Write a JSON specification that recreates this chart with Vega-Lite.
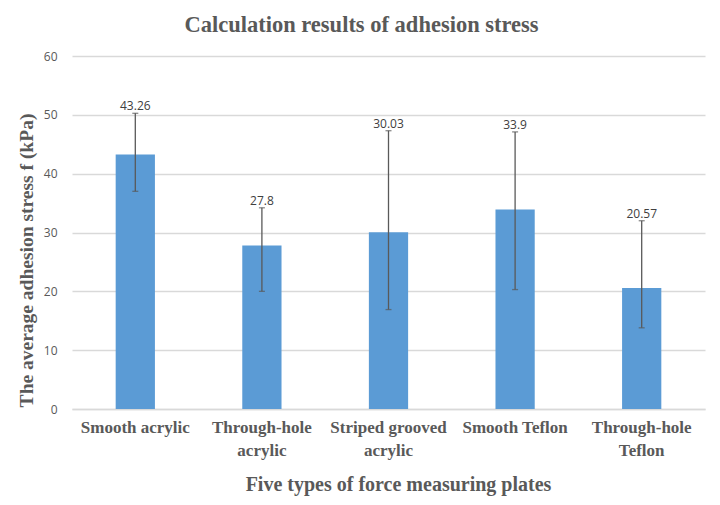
{
  "$schema": "https://vega.github.io/schema/vega-lite/v6.json",
  "width": 633,
  "height": 353,
  "autosize": "none",
  "padding": {"left": 72, "top": 56, "right": 15, "bottom": 96},
  "background": "white",
  "title": {
    "text": "Calculation results of adhesion stress",
    "font": "Liberation Serif",
    "fontSize": 22.5,
    "fontWeight": "bold",
    "color": "#595959",
    "offset": 14,
    "anchor": "middle",
    "dx": -27
  },
  "config": {"view": {"stroke": null}},
  "data": {
    "values": [
      {"plate": "Smooth acrylic", "mean": 43.26, "low": 37.0, "high": 50.26},
      {"plate": "Through-hole acrylic", "mean": 27.8, "low": 20.0, "high": 34.2},
      {"plate": "Striped grooved acrylic", "mean": 30.03, "low": 16.9, "high": 47.3},
      {"plate": "Smooth Teflon", "mean": 33.9, "low": 20.3, "high": 47.1},
      {"plate": "Through-hole Teflon", "mean": 20.57, "low": 13.8, "high": 32.0}
    ]
  },
  "encoding": {
    "x": {
      "field": "plate",
      "type": "nominal",
      "sort": null,
      "scale": {"paddingInner": 0.69, "paddingOuter": 0.345},
      "axis": {
        "title": "Five types of force measuring plates",
        "titleFont": "Liberation Serif",
        "titleFontSize": 20,
        "titleFontWeight": "bold",
        "titleColor": "#595959",
        "titlePadding": 16,
        "titleX": 326,
        "labelFont": "Liberation Serif",
        "labelFontSize": 17,
        "labelFontWeight": "bold",
        "labelColor": "#595959",
        "labelAngle": 0,
        "labelPadding": 10,
        "labelLineHeight": 23,
        "labelExpr": "datum.value == 'Through-hole acrylic' ? ['Through-hole', 'acrylic'] : datum.value == 'Striped grooved acrylic' ? ['Striped grooved', 'acrylic'] : datum.value == 'Through-hole Teflon' ? ['Through-hole', 'Teflon'] : datum.value",
        "ticks": false,
        "domainColor": "#d9d9d9",
        "domainWidth": 1.5
      }
    }
  },
  "layer": [
    {
      "mark": {"type": "bar", "color": "#5B9BD5"},
      "encoding": {
        "y": {
          "field": "mean",
          "type": "quantitative",
          "scale": {"domain": [0, 60]},
          "axis": {
            "title": "The average adhesion stress f (kPa)",
            "titleFont": "Liberation Serif",
            "titleFontSize": 19.5,
            "titleFontWeight": "bold",
            "titleColor": "#595959",
            "titlePadding": 7,
            "titleY": 204,
            "labelFont": "Open Sans",
            "labelFontSize": 12,
            "labelColor": "#595959",
            "labelPadding": 15,
            "values": [0, 10, 20, 30, 40, 50, 60],
            "ticks": false,
            "domain": false,
            "gridColor": "#d9d9d9",
            "gridWidth": 1.5
          }
        }
      }
    },
    {
      "mark": {"type": "rule", "color": "#595959", "strokeWidth": 1.3},
      "encoding": {
        "y": {"field": "low", "type": "quantitative"},
        "y2": {"field": "high"}
      }
    },
    {
      "mark": {"type": "tick", "color": "#595959", "size": 6, "thickness": 1.3},
      "encoding": {"y": {"field": "low", "type": "quantitative"}}
    },
    {
      "mark": {"type": "tick", "color": "#595959", "size": 6, "thickness": 1.3},
      "encoding": {"y": {"field": "high", "type": "quantitative"}}
    },
    {
      "mark": {"type": "text", "font": "Open Sans", "fontSize": 12, "color": "#404040", "dy": -7, "baseline": "middle"},
      "encoding": {
        "y": {"field": "high", "type": "quantitative"},
        "text": {"field": "mean", "type": "quantitative"}
      }
    }
  ]
}
